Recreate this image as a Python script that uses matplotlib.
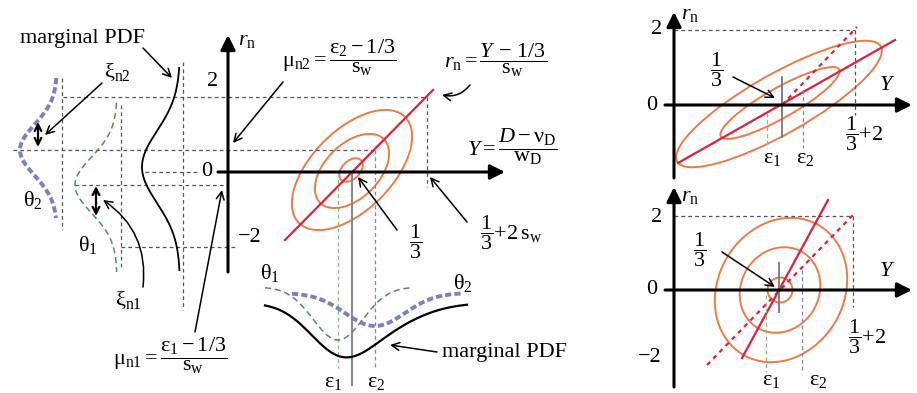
import numpy as np
import matplotlib
matplotlib.use("Agg")
import matplotlib.pyplot as plt
from matplotlib.patches import Ellipse

plt.rcParams['font.family'] = ['Liberation Serif', 'DejaVu Serif']
plt.rcParams['mathtext.fontset'] = 'custom'
plt.rcParams['mathtext.rm'] = 'Liberation Serif'
plt.rcParams['mathtext.it'] = 'Liberation Serif:italic'
plt.rcParams['mathtext.bf'] = 'Liberation Serif:bold'

FS = 16

# colours
ORANGE = '#ee7b47'
RED = '#e0203c'
GREEN = '#4f8f62'
LGREEN = '#7cc46a'
BLUE = '#7a7fc6'
GRID = '#555555'

# ---- data (pixel units of the sketch) ----
# left panel pdfs, drawn vertically: centre y, sigma, baseline x, depth
pdf_theta2_left = (150, 25.5, 57, 37)
pdf_theta1_left = (185, 28, 117, 42)
pdf_marg_left = (167, 36, 180, 38)
left_y_range = {'theta2': (78, 218), 'theta1': (103, 272), 'marg': (68, 270)}

# bottom pdfs, drawn horizontally: centre x, sigma, baseline y, depth
pdf_theta1_bot = (338, 25, 287, 53)
pdf_theta2_bot = (375, 30, 293, 33)
pdf_marg_bot = (303, 68)
bot_x_range = {'theta1': (265, 412), 'theta2': (292, 462), 'marg': (265, 467)}

# ellipses: centre, semi axes (a, b), angle in degrees
ell_main = [((352, 170), 75, 40, 45), ((352, 171), 45, 27, 45), ((351, 170), 14, 9, 45)]
ell_top = [((779, 104), 117, 30, 29.5), ((780, 103), 68, 15, 29.5)]
ell_bot = [((781, 290), 75, 63, 60), ((780, 290), 44, 39, 60), ((780, 290), 12.5, 12.5, 0)]

# regression lines
red_main = [(285, 433), (240, 90)]
red_top = [(678, 895), (163, 40)]
red_top_dot = [(782, 857), (105, 27)]
red_bot = [(742, 828), (358, 200)]
red_bot_dot = [(707, 853), (365, 215)]


def gauss(t, mu, s):
    return np.exp(-(t - mu) ** 2 / (2 * s ** 2))


fig = plt.figure(figsize=(9.17, 3.93), dpi=100)
ax = fig.add_axes([0, 0, 1, 1])
ax.set_xlim(0, 917)
ax.set_ylim(393, 0)
ax.axis('off')


def dash(x, y, color=GRID, lw=0.9):
    ax.plot(x, y, color=color, lw=lw, ls=(0, (3, 2.5)))


def axis_arrow(x0, y0, x1, y1):
    ax.annotate('', xy=(x1, y1), xytext=(x0, y0),
                arrowprops=dict(arrowstyle='-|>', lw=2.2, color='k',
                                mutation_scale=22, shrinkA=0, shrinkB=0))


def arrow(x0, y0, x1, y1, rad=0.0):
    ax.annotate('', xy=(x1, y1), xytext=(x0, y0),
                arrowprops=dict(arrowstyle='->', lw=1.1, color='k',
                                mutation_scale=14, shrinkA=0, shrinkB=0,
                                connectionstyle=f'arc3,rad={rad}'))


def txt(x, y, s, fs=FS, **kw):
    ax.text(x, y, s, fontsize=fs, ha='center', va='center', **kw)


# ---------------- grid lines main panel ----------------
dash([63, 427], [97, 97])
dash([427, 427], [97, 187])
dash([13, 375], [150, 150])
dash([75, 228], [185, 185])
dash([145, 200], [172, 172])
dash([121, 235], [247, 247])
dash([62, 62], [78, 230])
dash([121, 121], [105, 270])
dash([183, 183], [62, 310])

# left pdfs
mu, s, base, d = pdf_theta2_left
yy = np.linspace(*left_y_range['theta2'], 200)
ax.plot(base - d * gauss(yy, mu, s), yy, color=BLUE, lw=2.8, ls=(0, (1.6, 0.8)))
mu, s, base, d = pdf_theta1_left
yy = np.linspace(*left_y_range['theta1'], 200)
ax.plot(base - d * gauss(yy, mu, s), yy, color=GREEN, lw=1.1, ls=(0, (4, 2.5)))
mu, s, base, d = pdf_marg_left
yy = np.linspace(*left_y_range['marg'], 200)
ax.plot(base - d * gauss(yy, mu, s), yy, color='k', lw=1.3)

# double arrows
ax.annotate('', xy=(38, 122), xytext=(38, 147),
            arrowprops=dict(arrowstyle='<->', lw=1.6, color='k', mutation_scale=12, shrinkA=0, shrinkB=0))
ax.annotate('', xy=(96, 186), xytext=(96, 216),
            arrowprops=dict(arrowstyle='<->', lw=1.6, color='k', mutation_scale=12, shrinkA=0, shrinkB=0))

# left texts
txt(82, 38, 'marginal PDF')
arrow(143, 48, 172, 78)
txt(117, 72, r'$\mathrm{ξ_{n2}}$')
arrow(102, 83, 45, 135)
txt(33, 200, r'$\mathrm{θ_2}$')
txt(88, 245, r'$\mathrm{θ_1}$')
txt(128, 300, r'$\mathrm{ξ_{n1}}$')
arrow(143, 287, 103, 200, rad=0.3)
txt(170, 356, r'$\mathrm{μ_{n1}=\dfrac{ε_1-1/3}{s_w}}$')
arrow(195, 332, 222, 190)

# ---------------- main panel ----------------
for (c, a, b, ang) in ell_main:
    ax.add_patch(Ellipse(c, 2 * a, 2 * b, angle=-ang, fill=False, ec=ORANGE, lw=1.4))
ax.plot(*red_main, color=RED, lw=1.6)

ax.plot([352, 352], [172, 385], color='#8a8a8a', lw=1.5)
dash([338, 338], [180, 368], color=LGREEN)
dash([375, 375], [150, 368], color=BLUE)

axis_arrow(228, 272, 228, 35)
axis_arrow(218, 172, 505, 172)

txt(247, 40, r'$r_\mathrm{n}$')
txt(213, 82, '2')
txt(207, 172, '0')
txt(250, 237, '−2')
txt(339, 58, r'$\mathrm{μ_{n2}=\dfrac{ε_2-1/3}{s_w}}$')
arrow(283, 82, 233, 143)
txt(496, 60, r'$r_\mathrm{n}\mathrm{=}\dfrac{Y\,-\,1/3}{\mathrm{s_w}}$')
arrow(470, 85, 442, 95, rad=-0.3)
txt(512, 147, r'$Y\mathrm{=}\dfrac{D-\mathrm{ν_D}}{\mathrm{w_D}}$')
txt(416, 242, r'$\dfrac{1}{3}$')
arrow(397, 230, 358, 177)
txt(511, 233, r'$\dfrac{1}{3}\mathrm{+2\,s_w}$')
arrow(467, 222, 430, 177)

# bottom pdfs
mu, s, base, d = pdf_theta1_bot
xx = np.linspace(*bot_x_range['theta1'], 200)
ax.plot(xx, base + d * gauss(xx, mu, s), color=GREEN, lw=1.1, ls=(0, (4, 2.5)))
mu, s, base, d = pdf_theta2_bot
xx = np.linspace(*bot_x_range['theta2'], 200)
ax.plot(xx, base + d * gauss(xx, mu, s), color=BLUE, lw=2.8, ls=(0, (1.6, 0.8)))
base, d = pdf_marg_bot
xx = np.linspace(*bot_x_range['marg'], 200)
mix = 0.6 * gauss(xx, pdf_theta1_bot[0], 30) + 0.4 * gauss(xx, pdf_theta2_bot[0], 40)
ax.plot(xx, base + d * mix / mix.max() * 0.8, color='k', lw=1.6)

txt(270, 273, r'$\mathrm{θ_1}$')
txt(463, 283, r'$\mathrm{θ_2}$')
txt(505, 353, 'marginal PDF')
arrow(437, 352, 390, 345)
txt(333, 382, r'$\mathrm{ε_1}$')
txt(376, 382, r'$\mathrm{ε_2}$')

# ---------------- right top panel ----------------
dash([674, 855], [30, 30])
dash([855, 855], [30, 115])
for (c, a, b, ang) in ell_top:
    ax.add_patch(Ellipse(c, 2 * a, 2 * b, angle=-ang, fill=False, ec=ORANGE, lw=1.4))
ax.plot(*red_top, color=RED, lw=1.6)
ax.plot(*red_top_dot, color=RED, lw=1.6, ls=(0, (2, 2)))
ax.plot([782, 782], [77, 137], color='#777777', lw=1.3)
dash([767, 767], [113, 148], color=LGREEN)
dash([803, 803], [90, 148], color=BLUE)
axis_arrow(674, 178, 674, 12)
axis_arrow(665, 105, 912, 105)
txt(690, 15, r'$r_\mathrm{n}$')
txt(657, 30, '2')
txt(652, 105, '0')
txt(887, 85, r'$Y$')
txt(864, 134, r'$\dfrac{1}{3}\mathrm{+2}$')
txt(772, 158, r'$\mathrm{ε_1}$')
txt(805, 158, r'$\mathrm{ε_2}$')
txt(717, 70, r'$\dfrac{1}{3}$')
arrow(733, 77, 775, 98)

# ---------------- right bottom panel ----------------
dash([674, 853], [216, 216])
dash([853, 853], [216, 307])
for (c, a, b, ang) in ell_bot:
    ax.add_patch(Ellipse(c, 2 * a, 2 * b, angle=-ang, fill=False, ec=ORANGE, lw=1.4))
ax.plot(*red_bot, color=RED, lw=1.6)
ax.plot(*red_bot_dot, color=RED, lw=1.6, ls=(0, (2, 2)))
ax.plot([779, 779], [263, 312], color='#777777', lw=1.3)
dash([766, 766], [295, 372], color=LGREEN)
dash([802, 802], [270, 372], color=BLUE)
axis_arrow(674, 387, 674, 187)
axis_arrow(665, 290, 912, 290)
txt(690, 196, r'$r_\mathrm{n}$')
txt(657, 217, '2')
txt(652, 290, '0')
txt(650, 358, '−2')
txt(887, 272, r'$Y$')
txt(867, 337, r'$\dfrac{1}{3}\mathrm{+2}$')
txt(771, 380, r'$\mathrm{ε_1}$')
txt(818, 380, r'$\mathrm{ε_2}$')
txt(700, 250, r'$\dfrac{1}{3}$')
arrow(722, 252, 775, 287)

fig.savefig('out.png', dpi=100)
